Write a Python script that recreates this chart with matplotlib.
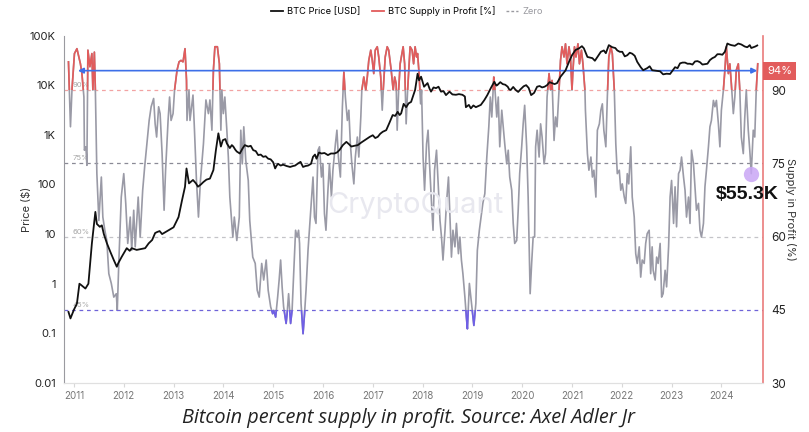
import numpy as np
import matplotlib
matplotlib.use("Agg")
import matplotlib.pyplot as plt
from matplotlib.patches import Rectangle
from matplotlib.ticker import FixedLocator, NullLocator

# BTC price (year, USD)
price_pts = [
    (2010.89, 0.27), (2010.93, 0.2), (2011.0, 0.3), (2011.06, 0.4), (2011.11, 1.0), (2011.14, 0.95),
    (2011.23, 0.8), (2011.29, 1.0), (2011.36, 6.5), (2011.43, 28), (2011.46, 16), (2011.52, 14),
    (2011.56, 15), (2011.6, 10), (2011.66, 6.6), (2011.73, 4.4), (2011.8, 3), (2011.86, 2.2), (2011.89, 2.6),
    (2011.96, 3.5), (2012.06, 5.2), (2012.12, 4.6), (2012.16, 5.2), (2012.26, 4.8), (2012.35, 5.0),
    (2012.43, 5.2), (2012.5, 6.5), (2012.57, 7.6), (2012.63, 10.5), (2012.67, 11), (2012.72, 11.5),
    (2012.77, 10), (2012.84, 11), (2012.9, 12), (2013.0, 13.7), (2013.1, 22), (2013.17, 48),
    (2013.23, 90), (2013.26, 210), (2013.31, 105), (2013.39, 123), (2013.45, 105), (2013.49, 90), (2013.55, 100),
    (2013.6, 112), (2013.66, 125), (2013.73, 131), (2013.8, 195), (2013.85, 490), (2013.9, 1070), (2013.95, 580),
    (2013.99, 780), (2014.04, 820), (2014.07, 670), (2014.1, 600), (2014.13, 540), (2014.17, 620),
    (2014.2, 580), (2014.24, 500), (2014.27, 460), (2014.33, 420), (2014.38, 520), (2014.43, 620),
    (2014.5, 580), (2014.55, 600), (2014.6, 490), (2014.65, 470), (2014.7, 390), (2014.75, 400),
    (2014.8, 360), (2014.85, 370), (2014.9, 330), (2014.95, 320), (2015.0, 280), (2015.04, 210),
    (2015.07, 240), (2015.1, 260), (2015.15, 240), (2015.2, 250), (2015.27, 235), (2015.34, 225),
    (2015.4, 235), (2015.44, 240), (2015.5, 265), (2015.55, 285), (2015.6, 225), (2015.65, 235),
    (2015.7, 240), (2015.76, 260), (2015.8, 360), (2015.84, 400), (2015.87, 330), (2015.92, 440),
    (2015.97, 420), (2016.03, 430), (2016.1, 390), (2016.16, 420), (2016.23, 420), (2016.28, 440),
    (2016.33, 490), (2016.4, 620), (2016.47, 720), (2016.52, 650), (2016.57, 580), (2016.63, 600),
    (2016.7, 620), (2016.77, 700), (2016.84, 780), (2016.94, 910), (2017.0, 980), (2017.05, 860),
    (2017.1, 910), (2017.15, 1050), (2017.2, 1150), (2017.27, 1240), (2017.33, 1700), (2017.4, 2500),
    (2017.45, 2400), (2017.5, 2900), (2017.54, 2500), (2017.57, 2700), (2017.62, 4200), (2017.67, 3600),
    (2017.72, 4300), (2017.77, 4600), (2017.82, 6500), (2017.85, 8000), (2017.9, 17000),
    (2017.93, 12500), (2017.97, 14800), (2018.03, 9300), (2018.1, 11000), (2018.14, 8500), (2018.17, 7400),
    (2018.22, 9000), (2018.27, 8700), (2018.32, 9300), (2018.37, 7400), (2018.42, 7600), (2018.47, 6300),
    (2018.54, 7400), (2018.6, 6500), (2018.67, 6400), (2018.73, 6600), (2018.8, 6400), (2018.85, 5900),
    (2018.87, 3600), (2018.93, 4000), (2018.97, 3400), (2019.02, 3900), (2019.07, 3600), (2019.12, 3800),
    (2019.17, 4000), (2019.24, 5000), (2019.3, 6300), (2019.37, 8700), (2019.44, 11700), (2019.48, 9800),
    (2019.5, 10000), (2019.56, 11500), (2019.61, 10500), (2019.66, 10200), (2019.71, 9300), (2019.74, 8200),
    (2019.77, 8000), (2019.82, 9200), (2019.87, 8000), (2019.92, 7300), (2019.97, 8300), (2020.03, 9500),
    (2020.08, 10000), (2020.13, 8800), (2020.18, 6300), (2020.24, 7000), (2020.3, 9300), (2020.35, 9600),
    (2020.4, 9000), (2020.45, 9300), (2020.5, 10000), (2020.55, 11500), (2020.6, 11000), (2020.65, 10500),
    (2020.7, 11000), (2020.77, 14800), (2020.87, 19800), (2020.94, 29500), (2021.0, 40000),
    (2021.07, 51000), (2021.14, 55000), (2021.2, 61000), (2021.24, 55000), (2021.31, 37000), (2021.36, 36000),
    (2021.41, 35000), (2021.46, 31000), (2021.51, 37000), (2021.58, 47000), (2021.64, 50000), (2021.68, 44000),
    (2021.74, 64000), (2021.81, 58000), (2021.87, 56000), (2021.91, 50000), (2021.96, 47000),
    (2022.01, 47000), (2022.06, 38000), (2022.11, 40000), (2022.16, 45000), (2022.21, 43000), (2022.26, 39000),
    (2022.31, 29500), (2022.38, 23000), (2022.43, 20000), (2022.51, 22000), (2022.56, 24000),
    (2022.61, 20000), (2022.69, 19500), (2022.77, 19000), (2022.83, 16500), (2022.9, 17000), (2022.97, 16800),
    (2023.07, 23000), (2023.12, 22000), (2023.17, 27500), (2023.22, 28500), (2023.27, 28500), (2023.32, 27000),
    (2023.37, 27000), (2023.42, 26000), (2023.47, 30000), (2023.52, 30500), (2023.57, 29000), (2023.62, 26000),
    (2023.67, 26500), (2023.72, 27000), (2023.77, 32000), (2023.82, 35000), (2023.87, 37000), (2023.92, 42000),
    (2023.97, 42000), (2024.02, 41000), (2024.07, 47000), (2024.12, 69000), (2024.16, 66000), (2024.2, 64000),
    (2024.27, 62000), (2024.34, 69000), (2024.4, 66000), (2024.47, 60000), (2024.52, 58000), (2024.57, 64000),
    (2024.6, 56000), (2024.64, 58000), (2024.68, 60000), (2024.72, 63000),
]

# BTC supply in profit (year, %)
supply_pts = [
    (2010.89, 95.8), (2010.93, 82.5), (2010.96, 90), (2011.01, 97.5), (2011.06, 98.5), (2011.09, 97.2),
    (2011.13, 95.4), (2011.16, 93.4), (2011.2, 88.6), (2011.21, 77.7), (2011.24, 78.4), (2011.26, 74.6),
    (2011.28, 98.2), (2011.32, 94.8), (2011.36, 97.5), (2011.38, 90), (2011.41, 97.8), (2011.43, 90),
    (2011.46, 72.9), (2011.5, 63.3), (2011.55, 72.2), (2011.58, 64), (2011.62, 61.3), (2011.66, 59.2),
    (2011.7, 52.4), (2011.75, 50.4), (2011.8, 47.6), (2011.85, 48.3), (2011.87, 44.9), (2011.9, 54.5),
    (2011.95, 68.1), (2012.0, 72.9), (2012.04, 66.8), (2012.08, 58.6), (2012.13, 64), (2012.16, 57.2),
    (2012.2, 65.4), (2012.23, 57.9), (2012.29, 68.1), (2012.33, 59.9), (2012.38, 69.5), (2012.42, 74.3),
    (2012.47, 79.7), (2012.51, 83.8), (2012.55, 86.6), (2012.6, 88.3), (2012.63, 83.1), (2012.66, 80.4),
    (2012.7, 86.6), (2012.73, 85.2), (2012.77, 77), (2012.81, 65.4), (2012.84, 73.6), (2012.89, 83.8),
    (2012.92, 88.6), (2012.95, 83.8), (2012.99, 85.2), (2013.02, 90), (2013.07, 94.1), (2013.11, 95.8),
    (2013.15, 96.1), (2013.19, 95.8), (2013.23, 98.5), (2013.26, 92), (2013.27, 83.8), (2013.31, 90),
    (2013.33, 83.8), (2013.39, 89), (2013.42, 81.8), (2013.46, 71.5), (2013.5, 64), (2013.54, 71.5),
    (2013.6, 79), (2013.65, 88), (2013.7, 85.2), (2013.73, 88), (2013.77, 81.8), (2013.8, 94.1),
    (2013.83, 98.9), (2013.88, 98.9), (2013.92, 95.4), (2013.95, 81.8), (2013.97, 90), (2014.0, 85.2),
    (2014.03, 88.6), (2014.07, 81.8), (2014.1, 76.3), (2014.13, 68.1), (2014.19, 59.9), (2014.22, 64),
    (2014.27, 59.2), (2014.32, 64), (2014.35, 81.8), (2014.38, 74.9), (2014.41, 82.5), (2014.45, 75.6),
    (2014.5, 71.5), (2014.53, 63.3), (2014.59, 55.8), (2014.64, 54.5), (2014.68, 49), (2014.72, 47.6),
    (2014.77, 54.5), (2014.81, 51.1), (2014.86, 55.2), (2014.9, 49), (2014.95, 45.6), (2014.99, 44.2),
    (2015.01, 44.9), (2015.05, 43.5), (2015.09, 47.6), (2015.12, 51.1), (2015.15, 55.2), (2015.18, 49.7),
    (2015.21, 45.6), (2015.26, 42.2), (2015.28, 44.2), (2015.31, 48.3), (2015.35, 42.2), (2015.38, 44.9),
    (2015.42, 54.5), (2015.45, 61.3), (2015.48, 59.9), (2015.51, 61.3), (2015.53, 58.6), (2015.56, 46.3),
    (2015.6, 40.1), (2015.63, 44.2), (2015.66, 49), (2015.7, 57.2), (2015.75, 64.7), (2015.8, 72.2),
    (2015.83, 64), (2015.86, 62.7), (2015.9, 77.7), (2015.93, 78.4), (2015.97, 72.2), (2016.0, 74.9),
    (2016.03, 64.7), (2016.06, 61.3), (2016.1, 69.5), (2016.13, 74.9), (2016.17, 68.1), (2016.2, 73.6),
    (2016.25, 79), (2016.28, 81.8), (2016.31, 76.3), (2016.35, 72.2), (2016.39, 86.6), (2016.42, 93.7),
    (2016.45, 88.6), (2016.49, 83.8), (2016.52, 85.9), (2016.55, 79), (2016.58, 74.9), (2016.62, 70.8),
    (2016.65, 76.3), (2016.69, 80.4), (2016.72, 76.3), (2016.76, 84.5), (2016.78, 90), (2016.82, 92.7),
    (2016.86, 90), (2016.89, 92.7), (2016.92, 96.1), (2016.96, 98.2), (2016.99, 96.1), (2017.02, 93.4),
    (2017.05, 98.2), (2017.09, 98.9), (2017.12, 96.8), (2017.16, 92.7), (2017.19, 85.9), (2017.21, 90),
    (2017.25, 96.8), (2017.29, 98.9), (2017.32, 98.2), (2017.37, 94.1), (2017.41, 90), (2017.44, 92.7),
    (2017.47, 91.3), (2017.49, 81.8), (2017.52, 90), (2017.55, 95.4), (2017.61, 98.9), (2017.64, 95.4),
    (2017.67, 83.1), (2017.7, 90), (2017.75, 98.9), (2017.79, 98.2), (2017.82, 95.4), (2017.85, 98.9),
    (2017.88, 96.8), (2017.9, 97.5), (2017.93, 93.4), (2017.96, 87.2), (2017.98, 90), (2018.01, 76.3),
    (2018.04, 69.5), (2018.08, 79), (2018.11, 81.8), (2018.14, 74.9), (2018.18, 66.8), (2018.21, 61.3),
    (2018.24, 73.6), (2018.28, 77.7), (2018.31, 71.5), (2018.35, 63.3), (2018.38, 59.9), (2018.41, 55.2),
    (2018.45, 61.3), (2018.48, 66.8), (2018.52, 72.2), (2018.55, 64), (2018.58, 55.8), (2018.61, 61.3),
    (2018.65, 57.9), (2018.68, 62.7), (2018.72, 56.5), (2018.75, 59.9), (2018.78, 55.2), (2018.81, 52.4),
    (2018.85, 47.6), (2018.88, 43.5), (2018.9, 41.1), (2018.92, 45.6), (2018.94, 50.4), (2018.97, 47.6),
    (2019.0, 44.9), (2019.03, 41.8), (2019.07, 46.3), (2019.1, 57.2), (2019.14, 61.3), (2019.21, 66.8),
    (2019.25, 68.8), (2019.29, 76.3), (2019.33, 82.5), (2019.36, 88.6), (2019.39, 84.5), (2019.43, 92.7),
    (2019.45, 90.7), (2019.49, 84.5), (2019.52, 88.6), (2019.55, 78.4), (2019.59, 85.9), (2019.62, 82.5),
    (2019.65, 79), (2019.69, 74.9), (2019.72, 77.7), (2019.75, 72.2), (2019.79, 69.5), (2019.82, 62.7),
    (2019.85, 58.6), (2019.89, 59.2), (2019.92, 65.4), (2019.95, 72.9), (2019.99, 78.4), (2020.02, 83.1),
    (2020.05, 86.9), (2020.09, 78.4), (2020.12, 68.1), (2020.16, 48.3), (2020.19, 54.5), (2020.22, 59.9),
    (2020.25, 59.9), (2020.27, 78.4), (2020.3, 81.8), (2020.34, 76.3), (2020.37, 83.1), (2020.4, 80.4),
    (2020.44, 74.9), (2020.47, 77), (2020.5, 88.6), (2020.54, 93.4), (2020.57, 90), (2020.6, 92),
    (2020.64, 79.7), (2020.67, 84.5), (2020.7, 82.5), (2020.74, 90), (2020.77, 96.1), (2020.8, 98.9),
    (2020.84, 96.8), (2020.87, 99.5), (2020.9, 95.4), (2020.94, 98.9), (2020.97, 96.8), (2021.0, 90),
    (2021.02, 94.1), (2021.05, 98.9), (2021.08, 96.8), (2021.12, 99.5), (2021.15, 95.4), (2021.19, 98.2),
    (2021.22, 95.4), (2021.26, 90), (2021.27, 85.9), (2021.31, 77), (2021.34, 73.6), (2021.38, 76.3),
    (2021.41, 72.2), (2021.44, 73.6), (2021.48, 68.1), (2021.51, 81.8), (2021.55, 83.1), (2021.58, 85.9),
    (2021.61, 87.2), (2021.64, 81.8), (2021.68, 78.4), (2021.71, 88.6), (2021.74, 96.8), (2021.78, 98.9),
    (2021.81, 97.5), (2021.85, 90), (2021.88, 79), (2021.91, 72.9), (2021.95, 73.6), (2021.98, 69.5),
    (2022.01, 70.8), (2022.05, 68.1), (2022.08, 66.8), (2022.11, 72.9), (2022.14, 70.8), (2022.18, 78.4),
    (2022.21, 68.1), (2022.25, 64), (2022.28, 56.5), (2022.31, 54.5), (2022.35, 57.9), (2022.38, 51.7),
    (2022.41, 55.2), (2022.45, 54.5), (2022.48, 58.6), (2022.51, 60.6), (2022.55, 61.3), (2022.58, 52.4),
    (2022.61, 57.9), (2022.63, 53.1), (2022.67, 51.1), (2022.7, 55.8), (2022.73, 54.5), (2022.77, 58.6),
    (2022.8, 47.6), (2022.83, 48.3), (2022.87, 53.1), (2022.9, 49.7), (2022.94, 57.9), (2022.97, 68.1),
    (2023.0, 71.5), (2023.04, 62.7), (2023.07, 70.2), (2023.1, 62), (2023.14, 72.9), (2023.17, 73.6),
    (2023.2, 76.3), (2023.24, 72.2), (2023.27, 69.5), (2023.3, 64), (2023.34, 68.1), (2023.37, 62.7),
    (2023.4, 77.7), (2023.44, 74.9), (2023.47, 70.2), (2023.5, 65.4), (2023.54, 66.8), (2023.57, 61.3),
    (2023.6, 59.9), (2023.64, 62.7), (2023.67, 70.2), (2023.7, 73.6), (2023.74, 78.4), (2023.77, 82.5),
    (2023.8, 83.8), (2023.84, 87.9), (2023.87, 86.6), (2023.9, 87.9), (2023.94, 83.1), (2023.97, 78.4),
    (2024.0, 85.9), (2024.04, 90), (2024.07, 94.1), (2024.1, 98.9), (2024.14, 93.4), (2024.17, 95.4),
    (2024.2, 91.3), (2024.24, 85.2), (2024.27, 88.6), (2024.3, 94.1), (2024.34, 95.4), (2024.37, 90),
    (2024.4, 80.4), (2024.44, 77), (2024.47, 84.5), (2024.5, 90), (2024.54, 81.8), (2024.57, 77.7),
    (2024.6, 72.9), (2024.64, 81.8), (2024.67, 80.4), (2024.7, 90), (2024.73, 95.4),
]

years = list(range(2011, 2025))
price_ticks = [0.01, 0.1, 1, 10, 100, 1000, 10000, 100000]
price_tick_labels = ["0.01", "0.1", "1", "10", "100", "1K", "10K", "100K"]
supply_ticks = [30, 45, 60, 75, 90]
levels = [90, 75, 60, 45]
level_colors = ["#f2a3a3", "#8a8a96", "#c4c4c8", "#6f63d8"]
current_supply = 94
dip_label = "$55.3K"

pt = np.array([p[0] for p in price_pts])
pv = np.array([p[1] for p in price_pts])
st = np.array([s[0] for s in supply_pts])
sv = np.array([s[1] for s in supply_pts])

plt.rcParams["font.family"] = ["Inter", "DejaVu Sans"]

fig = plt.figure(figsize=(8.09, 4.32), dpi=100)
ax1 = fig.add_axes([0.0791, 0.1134, 0.8640, 0.8044])
ax2 = ax1.twinx()

xmin, xmax = 2010.80, 2024.835
ax1.set_xlim(xmin, xmax)
ax1.set_yscale("log")
ax1.set_ylim(0.01, 100000)
ax2.set_ylim(30, 101.2)

# supply in profit: grey base, red above 90, purple below 45
ax2.plot(st, sv, color="#9a9aa6", lw=1.2, zorder=2)
hi = ax2.plot(st, sv, color="#e25c5c", lw=1.2, zorder=3)[0]
hi.set_clip_path(Rectangle((xmin, 90), xmax - xmin, 20, transform=ax2.transData))
lo = ax2.plot(st, sv, color="#6f5fe6", lw=1.2, zorder=3)[0]
lo.set_clip_path(Rectangle((xmin, 0), xmax - xmin, 45, transform=ax2.transData))

for lv, c in zip(levels, level_colors):
    ax2.axhline(lv, color=c, lw=0.9, ls=(0, (3, 3)), zorder=1)
    ax2.text(2010.97, lv + 0.6, f"{lv}%", fontsize=5.5, color="#a8a8a8", zorder=1)

# price on top
ax1.set_zorder(ax2.get_zorder() + 1)
ax1.patch.set_visible(False)
ax1.plot(pt, pv, color="#111111", lw=1.3)

# watermark
ax1.text(0.503, 0.51, "CryptoQuant", transform=ax1.transAxes, ha="center", va="center",
         fontsize=21, color="#e8e8ef", zorder=0)

# arrow at current level
ax2.annotate("", xy=(2024.72, current_supply), xytext=(2011.08, current_supply),
             arrowprops=dict(arrowstyle="<|-|>", color="#3d6fe8", lw=1.2,
                             mutation_scale=8, shrinkA=0, shrinkB=0), zorder=4)
ax2.text(1.006, (current_supply - 30) / 71.2, f"{current_supply}%", transform=ax2.transAxes,
         ha="left", va="center", fontsize=8, color="white",
         bbox=dict(boxstyle="square,pad=0.35", fc="#e25c5c", ec="none"), clip_on=False)

# recent dip marker
mask = st > 2024.4
i = np.argmin(sv[mask])
dx, dy = st[mask][i], sv[mask][i]
ax2.plot([dx], [dy], "o", ms=11, color="#c9a6f5", alpha=0.85, zorder=5, mec="none")
ax2.text(dx - 0.08, dy - 4.3, dip_label, ha="center", va="center", fontsize=14,
         fontweight="bold", family=["Liberation Sans", "DejaVu Sans"], color="#111", zorder=6,
         clip_on=False)

# axes styling
ax1.yaxis.set_major_locator(FixedLocator(price_ticks))
ax1.yaxis.set_minor_locator(NullLocator())
ax1.set_yticklabels(price_tick_labels)
ax1.set_xticks(years)
ax1.set_xticklabels([str(y) for y in years])
ax1.tick_params(axis="x", length=3, color="#d8d8d8", labelsize=7, labelcolor="#777777", pad=3)
ax1.tick_params(axis="y", length=0, labelsize=8, labelcolor="#222222", pad=6)
ax2.set_yticks(supply_ticks)
ax2.tick_params(axis="y", length=0, labelsize=8.5, labelcolor="#222222", pad=6)

for ax in (ax1, ax2):
    ax.spines["top"].set_visible(False)
    ax.spines["bottom"].set_color("#e0e0e0")
ax1.spines["right"].set_visible(False)
ax2.spines["left"].set_visible(False)
ax1.spines["left"].set_color("#9a9aa0")
ax2.spines["right"].set_color("#ea7b7b")
ax2.spines["right"].set_linewidth(1.2)

ax1.set_ylabel("Price ($)", fontsize=8, color="#333333", labelpad=-1.5)
ax2.set_ylabel("Supply in Profit (%)", fontsize=8, color="#333333", rotation=270, labelpad=7)

# legend
h1, = ax1.plot([], [], color="#111111", lw=1.3)
h2, = ax1.plot([], [], color="#e25c5c", lw=1.3)
h3, = ax1.plot([], [], color="#9a9aa0", lw=1.0, ls=(0, (2, 1.5)))
leg = fig.legend([h1, h2, h3], ["BTC Price [USD]", "BTC Supply in Profit [%]", "Zero"],
                 loc="upper center", bbox_to_anchor=(0.503, 1.005), ncol=3, frameon=False,
                 fontsize=6.7, handlelength=1.3, handletextpad=0.4, columnspacing=1.2)
leg.get_texts()[2].set_color("#9a9aa0")

fig.text(0.505, 0.033, "Bitcoin percent supply in profit. Source: Axel Adler Jr",
         ha="center", va="center", fontsize=14.3, style="italic",
         family=["Open Sans", "DejaVu Sans"], color="#222222")

fig.savefig("out.png", dpi=100)
